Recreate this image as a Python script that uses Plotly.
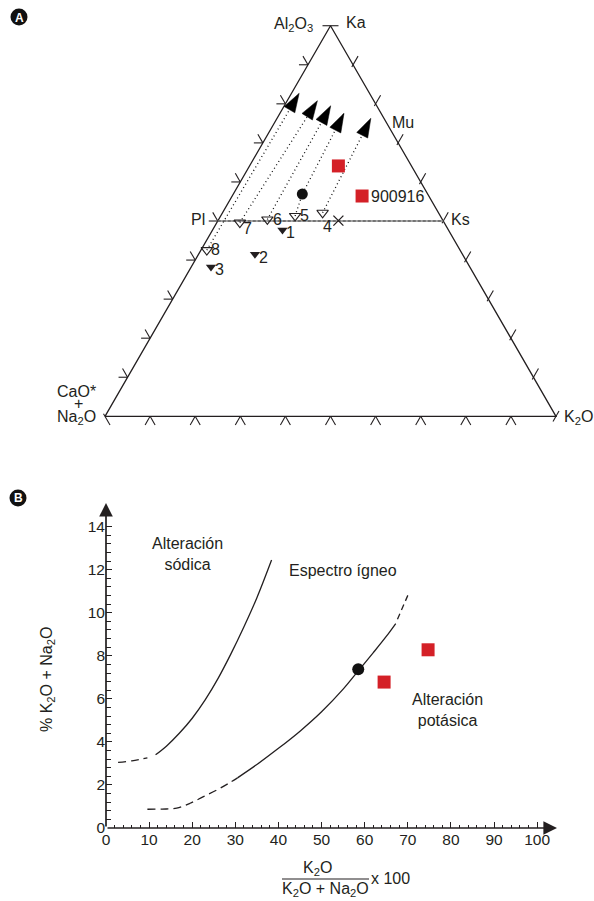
import numpy as np
import plotly.graph_objects as go

W, H = 594, 901
FONT = "Liberation Sans, Arial, Helvetica, sans-serif"
TXT = "#231f20"
RED = "#d42027"
FS = 16

# ---------------- Panel A data: Al2O3, CaO*+Na2O, K2O (molar %) ----------------
open_labels = ["4", "5", "6", "7", "8"]
open_al = [52.1, 51.3, 50.4, 49.6, 42.6]
open_cn = [25.7, 32.2, 38.8, 45.3, 56.2]
open_k = [22.2, 16.5, 10.8, 5.1, 1.3]

filled_labels = ["1", "2", "3"]
filled_al = [47.7, 41.5, 38.2]
filled_cn = [36.8, 46.0, 57.4]
filled_k = [15.5, 12.5, 4.4]

circle_al, circle_cn, circle_k = [56.9], [27.8], [15.3]

square_labels = ["", "900916"]
square_al = [64.1, 56.4]
square_cn = [16.2, 14.8]
square_k = [19.7, 28.8]

cross_al, cross_cn, cross_k = [50.1], [23.2], [26.7]

# weathering trends: start sample -> arrow tip
trend_start = ["8", "7", "6", "5", "4"]
trend_via_circle = [False, False, False, True, False]
tip_al = [82.7, 80.8, 79.5, 77.6, 76.3]
tip_cn = [15.6, 12.5, 10.2, 8.2, 2.9]
tip_k = [1.7, 6.7, 10.3, 14.2, 20.8]

# reference minerals
mineral_names = ["Ka", "Mu", "Pl", "Ks"]
mineral_al = [100, 75, 50, 50]
mineral_cn = [0, 0, 50, 0]
mineral_k = [0, 25, 0, 50]

tern_ticks = [10, 20, 30, 40, 50, 60, 70, 80, 90]

# ---------------- Panel B data ----------------
sod_solid_x = [11.5, 14, 17, 20, 23, 26, 29, 32, 35, 38.4]
sod_solid_y = [3.4, 3.8, 4.4, 5.1, 5.95, 6.95, 8.1, 9.35, 10.7, 12.45]
sod_dash_x = [2.8, 6, 9.6]
sod_dash_y = [3.05, 3.12, 3.26]

ign_dash_lo_x = [9.6, 13, 16.4, 19.5, 22.6, 26.5, 30.5]
ign_dash_lo_y = [0.87, 0.88, 0.92, 1.15, 1.46, 1.85, 2.33]
ign_solid_x = [30.5, 35, 40, 45, 50, 55, 58.5, 62, 65, 67.2]
ign_solid_y = [2.33, 2.95, 3.7, 4.5, 5.4, 6.45, 7.3, 8.15, 8.9, 9.5]
ign_dash_hi_x = [67.6, 70.2]
ign_dash_hi_y = [9.7, 10.9]

b_circle_x, b_circle_y = [58.5], [7.38]
b_square_x, b_square_y = [64.5, 74.7], [6.78, 8.28]

x_ticks = list(range(0, 101, 10))
y_ticks = list(range(0, 15, 2))

# ---------------- helpers ----------------
S3 = np.sqrt(3) / 2


def txy(a, cn, k):
    a = np.asarray(a, float)
    cn = np.asarray(cn, float)
    k = np.asarray(k, float)
    s = a + cn + k
    return (k + a / 2) / s, (a * S3) / s


def px(xp, yp):
    return xp / W, 1 - yp / H


fig = go.Figure()

# ---- triangle frame
fx, fy = txy([0, 0, 100, 0], [100, 0, 0, 100], [0, 100, 0, 0])
fig.add_trace(go.Scatter(x=fx, y=fy, mode="lines", line=dict(color=TXT, width=1.3),
                         xaxis="x", yaxis="y", hoverinfo="skip"))

# ---- edge tick marks (outward stubs of the ternary grid)
L = 10 / 451
sx, sy = [], []


def stub(p, d, t0, t1):
    sx.extend([p[0] + d[0] * t0, p[0] + d[0] * t1, None])
    sy.extend([p[1] + d[1] * t0, p[1] + d[1] * t1, None])


for t in tern_ticks:
    f = t / 100
    bx, by = txy(0, 1 - f, f)
    stub((bx, by), (-0.5, -S3), 0, L)
    stub((bx, by), (0.5, -S3), 0, L)
    lx, ly = txy(f, 1 - f, 0)
    stub((lx, ly), (-1, 0), 0, L * 0.9)
    stub((lx, ly), (-0.5, S3), 0, L)
    rx, ry = txy(f, 0, 1 - f)
    stub((rx, ry), (0.5, S3), -0.25 * L, L)
tx_, ty_ = txy(100, 0, 0)
stub((tx_, ty_), (1, 0), -0.8 * L, 0.8 * L)
blx, bly = txy(0, 100, 0)
stub((blx, bly), (0.5, -S3), -0.3 * L, L)
brx, bry = txy(0, 0, 100)
stub((brx, bry), (0.5, S3), -0.6 * L, 0.6 * L)
fig.add_trace(go.Scatter(x=sx, y=sy, mode="lines", line=dict(color=TXT, width=1.1),
                         xaxis="x", yaxis="y", hoverinfo="skip"))

# ---- Pl - Ks join
plx, ply = txy([mineral_al[2], mineral_al[3]], [mineral_cn[2], mineral_cn[3]],
               [mineral_k[2], mineral_k[3]])
fig.add_trace(go.Scatter(x=plx, y=ply, mode="lines", line=dict(color="#8a8a8a", width=1.6),
                         xaxis="x", yaxis="y", hoverinfo="skip"))
fig.add_trace(go.Scatter(x=plx, y=ply, mode="lines",
                         line=dict(color="#444", width=1.1, dash="3px,2px"),
                         xaxis="x", yaxis="y", hoverinfo="skip"))

# ---- weathering trends (dotted with arrowheads)
for i, lab in enumerate(trend_start):
    j = open_labels.index(lab)
    pa, pc, pk = [open_al[j]], [open_cn[j]], [open_k[j]]
    if trend_via_circle[i]:
        pa += circle_al
        pc += circle_cn
        pk += circle_k
    pa += [tip_al[i]]
    pc += [tip_cn[i]]
    pk += [tip_k[i]]
    xx, yy = txy(pa, pc, pk)
    sizes = [0] * (len(xx) - 1) + [20]
    fig.add_trace(go.Scatter(
        x=xx, y=yy, mode="lines+markers",
        line=dict(color="#111", width=1.3, dash="1px,3px"),
        marker=dict(symbol="arrow", size=sizes, color="#000", angleref="previous",
                    opacity=1, line=dict(width=0.5, color="#000")),
        xaxis="x", yaxis="y", hoverinfo="skip"))

# ---- samples
ox, oy = txy(open_al, open_cn, open_k)
fig.add_trace(go.Scatter(x=ox, y=oy, mode="markers",
                         marker=dict(symbol="triangle-down-open", size=10, color=TXT,
                                     line=dict(width=1.1)),
                         xaxis="x", yaxis="y"))
fxx, fyy = txy(filled_al, filled_cn, filled_k)
fig.add_trace(go.Scatter(x=fxx, y=fyy, mode="markers",
                         marker=dict(symbol="triangle-down", size=9, color=TXT),
                         xaxis="x", yaxis="y"))
cx, cy = txy(circle_al, circle_cn, circle_k)
fig.add_trace(go.Scatter(x=cx, y=cy, mode="markers",
                         marker=dict(symbol="circle", size=11, color="#111"),
                         xaxis="x", yaxis="y"))
qx, qy = txy(square_al, square_cn, square_k)
fig.add_trace(go.Scatter(x=qx, y=qy, mode="markers",
                         marker=dict(symbol="square", size=13, color=RED),
                         xaxis="x", yaxis="y"))
xx_, xy_ = txy(cross_al, cross_cn, cross_k)
fig.add_trace(go.Scatter(x=xx_, y=xy_, mode="markers",
                         marker=dict(symbol="x-thin-open", size=10, color=TXT,
                                     line=dict(width=1.3, color=TXT)),
                         xaxis="x", yaxis="y"))

ann = []
# sample labels (offsets in px)
open_off = {"4": (4.5, -14), "5": (9, 0), "6": (9.7, 0), "7": (8, -5.5), "8": (8.6, 1)}
for i, lab in enumerate(open_labels):
    dx, dy = open_off[lab]
    ann.append(dict(x=ox[i], y=oy[i], xref="x", yref="y", text=lab, showarrow=False,
                    xshift=dx, yshift=dy, font=dict(size=FS)))
filled_off = {"1": (8.3, -3), "2": (8.7, -3.2), "3": (9, -2.4)}
for i, lab in enumerate(filled_labels):
    dx, dy = filled_off[lab]
    ann.append(dict(x=fxx[i], y=fyy[i], xref="x", yref="y", text=lab, showarrow=False,
                    xshift=dx, yshift=dy, font=dict(size=FS)))
for i, lab in enumerate(square_labels):
    if lab:
        ann.append(dict(x=qx[i], y=qy[i], xref="x", yref="y", text=lab, showarrow=False,
                        xanchor="left", xshift=7, yshift=0, font=dict(size=FS)))

# mineral / vertex labels
mx, my = txy(mineral_al, mineral_cn, mineral_k)
ann.append(dict(x=mx[0], y=my[0], xref="x", yref="y", text="Ka", showarrow=False,
                xanchor="left", xshift=13, yshift=3, font=dict(size=FS)))
ann.append(dict(x=mx[0], y=my[0], xref="x", yref="y", text="Al<sub>2</sub>O<sub>3</sub>",
                showarrow=False, xanchor="right", xshift=-16, yshift=1, font=dict(size=FS)))
ann.append(dict(x=mx[1], y=my[1], xref="x", yref="y", text="Mu", showarrow=False,
                xanchor="left", xshift=3, yshift=1, font=dict(size=FS)))
ann.append(dict(x=mx[2], y=my[2], xref="x", yref="y", text="Pl", showarrow=False,
                xanchor="right", xshift=-11, yshift=2, font=dict(size=FS)))
ann.append(dict(x=mx[3], y=my[3], xref="x", yref="y", text="Ks", showarrow=False,
                xanchor="left", xshift=6, yshift=2, font=dict(size=FS)))
blx, bly = txy(0, 100, 0)
ann.append(dict(x=blx, y=bly, xref="x", yref="y", text="CaO*", showarrow=False,
                xanchor="right", yanchor="middle", xshift=-7, yshift=25, font=dict(size=FS)))
ann.append(dict(x=blx, y=bly, xref="x", yref="y", text="+", showarrow=False,
                xanchor="center", yanchor="middle", xshift=-27, yshift=13, font=dict(size=FS)))
ann.append(dict(x=blx, y=bly, xref="x", yref="y", text="Na<sub>2</sub>O", showarrow=False,
                xanchor="right", yanchor="middle", xshift=-7, yshift=-1, font=dict(size=FS)))
ann.append(dict(x=brx, y=bry, xref="x", yref="y", text="K<sub>2</sub>O", showarrow=False,
                xanchor="left", yanchor="middle", xshift=6, yshift=-1, font=dict(size=FS)))

# ---------------- Panel B traces ----------------
def b_line(x, y, dash):
    fig.add_trace(go.Scatter(x=x, y=y, mode="lines", line=dict(color=TXT, width=1.3, dash=dash,
                                                                 shape="spline", smoothing=1.0),
                             xaxis="x2", yaxis="y2", hoverinfo="skip"))


b_line(sod_solid_x, sod_solid_y, "solid")
b_line(sod_dash_x, sod_dash_y, "8px,5px")
b_line(ign_dash_lo_x, ign_dash_lo_y, "8px,5px")
b_line(ign_solid_x, ign_solid_y, "solid")
b_line(ign_dash_hi_x, ign_dash_hi_y, "6px,4px")

fig.add_trace(go.Scatter(x=b_circle_x, y=b_circle_y, mode="markers",
                         marker=dict(symbol="circle", size=12, color="#111"),
                         xaxis="x2", yaxis="y2"))
fig.add_trace(go.Scatter(x=b_square_x, y=b_square_y, mode="markers",
                         marker=dict(symbol="square", size=13, color=RED),
                         xaxis="x2", yaxis="y2"))

XMAX, YMAX = 104.6, 15.1
# axis arrows
ann.append(dict(x=XMAX, y=0, ax=0, ay=0, xref="x2", yref="y2", axref="x2", ayref="y2",
                text="", showarrow=True, arrowhead=2, arrowsize=1.6, arrowwidth=1.7,
                arrowcolor=TXT, standoff=0, startstandoff=0))
ann.append(dict(x=0, y=YMAX, ax=0, ay=0, xref="x2", yref="y2", axref="x2", ayref="y2",
                text="", showarrow=True, arrowhead=2, arrowsize=1.6, arrowwidth=1.7,
                arrowcolor=TXT, standoff=0, startstandoff=0))

# region labels
ann.append(dict(x=19, y=12.75, xref="x2", yref="y2", text="Alteración<br>sódica",
                showarrow=False, align="center", xanchor="center", yanchor="middle",
                font=dict(size=FS)))
ann.append(dict(x=55, y=11.95, xref="x2", yref="y2", text="Espectro ígneo",
                showarrow=False, xanchor="center", yanchor="middle", font=dict(size=FS)))
ann.append(dict(x=79.3, y=5.5, xref="x2", yref="y2", text="Alteración<br>potásica",
                showarrow=False, align="center", xanchor="center", yanchor="middle",
                font=dict(size=FS)))

# axis titles
yx, yy_ = px(47, 680)
ann.append(dict(x=yx, y=yy_, xref="paper", yref="paper",
                text="% K<sub>2</sub>O + Na<sub>2</sub>O", textangle=-90,
                xanchor="center", yanchor="middle", showarrow=False, font=dict(size=FS)))
nx, ny = px(317, 868)
ann.append(dict(x=nx, y=ny, xref="paper", yref="paper", text="K<sub>2</sub>O",
                xanchor="center", yanchor="middle", showarrow=False, font=dict(size=FS)))
dx_, dy_ = px(325, 889)
ann.append(dict(x=dx_, y=dy_, xref="paper", yref="paper",
                text="K<sub>2</sub>O + Na<sub>2</sub>O", xanchor="center", yanchor="middle",
                showarrow=False, font=dict(size=FS)))
ex, ey = px(369, 878)
ann.append(dict(x=ex, y=ey, xref="paper", yref="paper", text="x 100", xanchor="left",
                yanchor="middle", showarrow=False, font=dict(size=FS)))

# panel letters
shapes = []
for lab, (cxp, cyp) in [("A", (19, 17)), ("B", (18, 498))]:
    x0, y0 = px(cxp - 8.5, cyp - 8.5)
    x1, y1 = px(cxp + 8.5, cyp + 8.5)
    shapes.append(dict(type="circle", xref="paper", yref="paper", x0=x0, x1=x1, y0=y1, y1=y0,
                       fillcolor="#111", line=dict(width=0), layer="below"))
    lx_, ly_ = px(cxp, cyp + 0.5)
    ann.append(dict(x=lx_, y=ly_, xref="paper", yref="paper", text="<b>%s</b>" % lab,
                    xanchor="center", yanchor="middle",
                    showarrow=False, font=dict(size=12, color="white")))

# fraction bar
fx0, fyb = px(282, 879)
fx1, _ = px(369, 879)
shapes.append(dict(type="line", xref="paper", yref="paper", x0=fx0, x1=fx1, y0=fyb, y1=fyb,
                   line=dict(color=TXT, width=1.2)))

x_minor = [v for v in range(0, 101, 2) if v % 10]
y_minor = [round(v * 0.4, 2) for v in range(1, 35) if abs(v * 0.4 - round(v * 0.4 / 2) * 2) > 1e-6]

fig.update_layout(
    width=W, height=H, margin=dict(l=0, r=0, t=0, b=0, autoexpand=False),
    paper_bgcolor="white", plot_bgcolor="rgba(0,0,0,0)", showlegend=False,
    font=dict(family=FONT, size=FS, color=TXT),
    xaxis=dict(domain=[0, 1], range=[-105 / 451, 489 / 451], visible=False, anchor="y",
               fixedrange=True),
    yaxis=dict(domain=[1 - 440 / H, 1], range=[(416.3 - 440) / 451, 416.3 / 451],
               visible=False, anchor="x", fixedrange=True),
    xaxis2=dict(domain=[106 / W, 557 / W], range=[0, XMAX], anchor="y2",
                tickvals=x_ticks, ticks="inside", ticklen=6, tickwidth=1.2, tickcolor=TXT,
                showgrid=False, zeroline=False, showline=False,
                minor=dict(tickvals=x_minor, ticks="inside", ticklen=3.5, tickwidth=1,
                           tickcolor=TXT, showgrid=False),
                tickfont=dict(size=15.5, color=TXT)),
    yaxis2=dict(domain=[1 - 828 / H, 1 - 503 / H], range=[0, YMAX], anchor="x2",
                tickvals=y_ticks, ticks="inside", ticklen=6, tickwidth=1.2, tickcolor=TXT,
                showgrid=False, zeroline=False, showline=False,
                minor=dict(tickvals=y_minor, ticks="inside", ticklen=4.5, tickwidth=1,
                           tickcolor=TXT, showgrid=False),
                tickfont=dict(size=15.5, color=TXT)),
    annotations=ann, shapes=shapes,
)

fig.write_html("out.html", config={"displayModeBar": False},
               post_script="document.body.style.margin='0px';document.body.style.overflow='hidden';")
